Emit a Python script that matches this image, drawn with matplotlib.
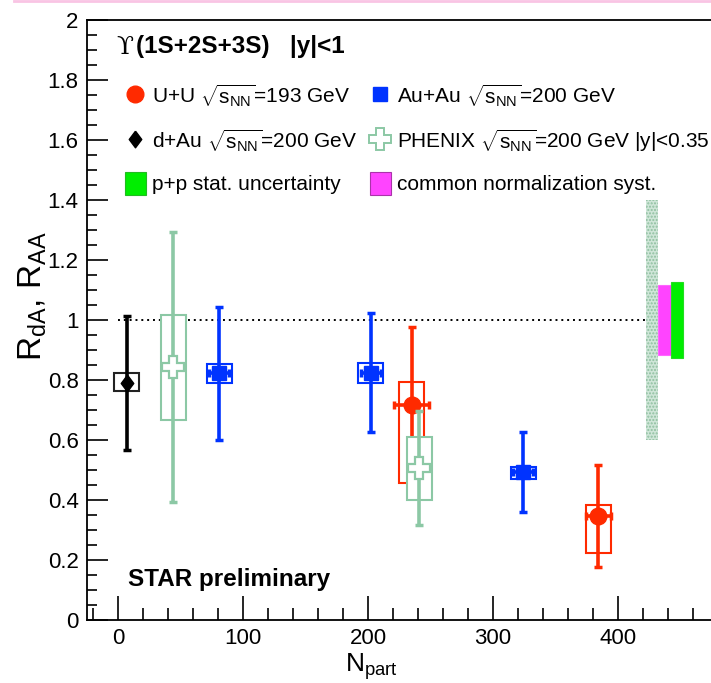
import matplotlib
matplotlib.use("Agg")
import matplotlib.pyplot as plt
from matplotlib.lines import Line2D
from matplotlib.patches import Patch
from matplotlib.ticker import MultipleLocator, FormatStrFormatter

plt.rcParams['font.family'] = ['Liberation Sans', 'DejaVu Sans']
plt.rcParams['mathtext.fontset'] = 'custom'
plt.rcParams['mathtext.rm'] = 'Liberation Sans'
plt.rcParams['mathtext.it'] = 'Liberation Sans:italic'
plt.rcParams['mathtext.bf'] = 'Liberation Sans:bold'

# --- data ---
uu_npart = [235, 384]
uu_raa = [0.717, 0.348]
uu_stat = [0.26, 0.17]
uu_xerr = [14, 10]
uu_sys_up = [0.076, 0.035]
uu_sys_dn = [0.260, 0.124]

auau_npart = [81, 202, 324]
auau_raa = [0.823, 0.825, 0.493]
auau_stat = [0.222, 0.198, 0.133]
auau_xerr = [8, 8, 8]
auau_sys_up = [0.030, 0.032, 0.017]
auau_sys_dn = [0.033, 0.035, 0.023]

dau_npart = [7]
dau_raa = [0.79]
dau_stat = [0.222]
dau_sys_up = [0.033]
dau_sys_dn = [0.027]

phenix_npart = [44, 241]
phenix_raa = [0.844, 0.507]
phenix_stat = [0.45, 0.19]
phenix_sys_up = [0.173, 0.103]
phenix_sys_dn = [0.177, 0.107]

# global uncertainties drawn at the right: (x centre, half height around 1)
band_x = [427, 437, 447]
band_half = [0.40, 0.117, 0.128]

xticks = [0, 100, 200, 300, 400]

RED = '#ff2a00'
BLUE = '#0033ff'
GREEN_PHX = '#8cc8a5'
BOXW = 20

fig = plt.figure(figsize=(7.11, 6.83), dpi=100)
ax = fig.add_axes([87 / 711, 63 / 683, 656 / 711, 600 / 683])
ax.set_xlim(-25, 500)
ax.set_ylim(0, 2)

# unity line
ax.plot([0, 430], [1, 1], color='black', ls=(0, (1, 2)), lw=1.4, zorder=1)

# global bands
ax.bar(band_x[0], 2 * band_half[0], bottom=1 - band_half[0], width=10,
       color='#cfe6d8', hatch='.....', edgecolor='#8fbf9f', lw=0, zorder=2)
ax.bar(band_x[1], 2 * band_half[1], bottom=1 - band_half[1], width=10,
       color='#ff44ff', edgecolor='#ff66ff', lw=0.8, zorder=2)
ax.bar(band_x[2], 2 * band_half[2], bottom=1 - band_half[2], width=10,
       color='#00ee00', edgecolor='#22dd22', lw=0.8, zorder=2)


def sys_boxes(x, y, up, dn, color, fill=False, z=3):
    lo = [v - d for v, d in zip(y, dn)]
    h = [u + d for u, d in zip(up, dn)]
    ax.bar(x, h, bottom=lo, width=BOXW, facecolor='white' if fill else 'none',
           edgecolor=color, lw=1.5, zorder=z)


# U+U
sys_boxes(uu_npart, uu_raa, uu_sys_up, uu_sys_dn, RED, z=3)
ax.errorbar(uu_npart, uu_raa, yerr=uu_stat, xerr=uu_xerr, fmt='o', color=RED,
            ms=12, elinewidth=2.6, capsize=3, capthick=2.5, zorder=4)

# Au+Au
sys_boxes(auau_npart, auau_raa, auau_sys_up, auau_sys_dn, BLUE, z=3)
ax.errorbar(auau_npart, auau_raa, yerr=auau_stat, xerr=auau_xerr, fmt='s', color=BLUE,
            ms=10.5, elinewidth=2.6, capsize=3, capthick=2.5, zorder=4)

# d+Au
diamond = [(0, 1), (0.75, 0), (0, -1), (-0.75, 0), (0, 1)]
sys_boxes(dau_npart, dau_raa, dau_sys_up, dau_sys_dn, '#222222', z=3)
ax.errorbar(dau_npart, dau_raa, yerr=dau_stat, fmt='none', color='black',
            elinewidth=2.6, capsize=3, capthick=2.5, zorder=4)
ax.plot(dau_npart, dau_raa, ls='none', marker=diamond, ms=12, color='black', zorder=5)

# PHENIX (white filled boxes cover what is behind)
sys_boxes(phenix_npart, phenix_raa, phenix_sys_up, phenix_sys_dn, GREEN_PHX, fill=True, z=6)
ax.errorbar(phenix_npart, phenix_raa, yerr=phenix_stat, fmt='none', color=GREEN_PHX,
            elinewidth=2.6, capsize=3, capthick=2.5, zorder=7)
ax.plot(phenix_npart, phenix_raa, ls='none', marker='P', ms=16, mfc='white',
        mec=GREEN_PHX, mew=1.6, zorder=8)

# axes styling
ax.set_xticks(xticks)
ax.xaxis.set_minor_locator(MultipleLocator(20))
ax.yaxis.set_major_locator(MultipleLocator(0.2))
ax.yaxis.set_minor_locator(MultipleLocator(0.05))
ax.yaxis.set_major_formatter(FormatStrFormatter('%g'))
ax.tick_params(which='both', direction='in', top=False, right=False, labelsize=16, width=1.2)
ax.tick_params(axis='x', which='major', length=17, pad=6)
ax.tick_params(axis='x', which='minor', length=9)
ax.tick_params(axis='y', which='major', length=15, pad=6)
ax.tick_params(axis='y', which='minor', length=7)
for s in ax.spines.values():
    s.set_linewidth(1.3)

ax.set_xlabel(r'N$_{\mathrm{part}}$', fontsize=19)
ax.xaxis.set_label_coords(0.434, -0.053)
ax.set_ylabel(r'R$_{\mathrm{dA}}$, R$_{\mathrm{AA}}$', fontsize=24)
ax.yaxis.set_label_coords(-0.058, 0.54)

# title line
ax.text(0.045, 0.955, '\u03d2', transform=ax.transAxes, fontsize=18,
        family='DejaVu Serif', va='center', ha='left')
ax.text(0.074, 0.955, '(1S+2S+3S)   |y|<1', transform=ax.transAxes, fontsize=17.5,
        fontweight='bold', va='center', ha='left')
ax.text(0.063, 0.067, 'STAR preliminary', transform=ax.transAxes, fontsize=17.5,
        fontweight='bold', va='center', ha='left')

sq = r'$\sqrt{\mathrm{s}_{\mathrm{NN}}}$'
handles = [
    Line2D([], [], marker='o', color=RED, ls='none', ms=12),
    Line2D([], [], marker=diamond, color='black', ls='none', ms=12),
    Patch(facecolor='#00ee00', edgecolor='#22bb22', lw=0.8),
    Line2D([], [], marker='s', color=BLUE, ls='none', ms=10.5),
    Line2D([], [], marker='P', mfc='white', mec=GREEN_PHX, mew=1.4, ls='none', ms=16),
    Patch(facecolor='#ff44ff', edgecolor='#aa33aa', lw=0.8),
]
labels = [
    'U+U ' + sq + '=193 GeV',
    'd+Au ' + sq + '=200 GeV',
    'p+p stat. uncertainty',
    'Au+Au ' + sq + '=200 GeV',
    'PHENIX ' + sq + '=200 GeV |y|<0.35',
    'common normalization syst.',
]
ax.legend(handles, labels, ncol=2, loc='upper left', bbox_to_anchor=(0.058, 0.897),
          frameon=False, fontsize=15, handlelength=1.0, handleheight=1.3,
          handletextpad=0.3, columnspacing=0.6, labelspacing=0.87, borderpad=0,
          borderaxespad=0)

fig.add_artist(Line2D([0.02, 1], [0.998, 0.998], transform=fig.transFigure,
                      color='#f9c4e4', lw=2))

fig.savefig('out.png', dpi=100)
